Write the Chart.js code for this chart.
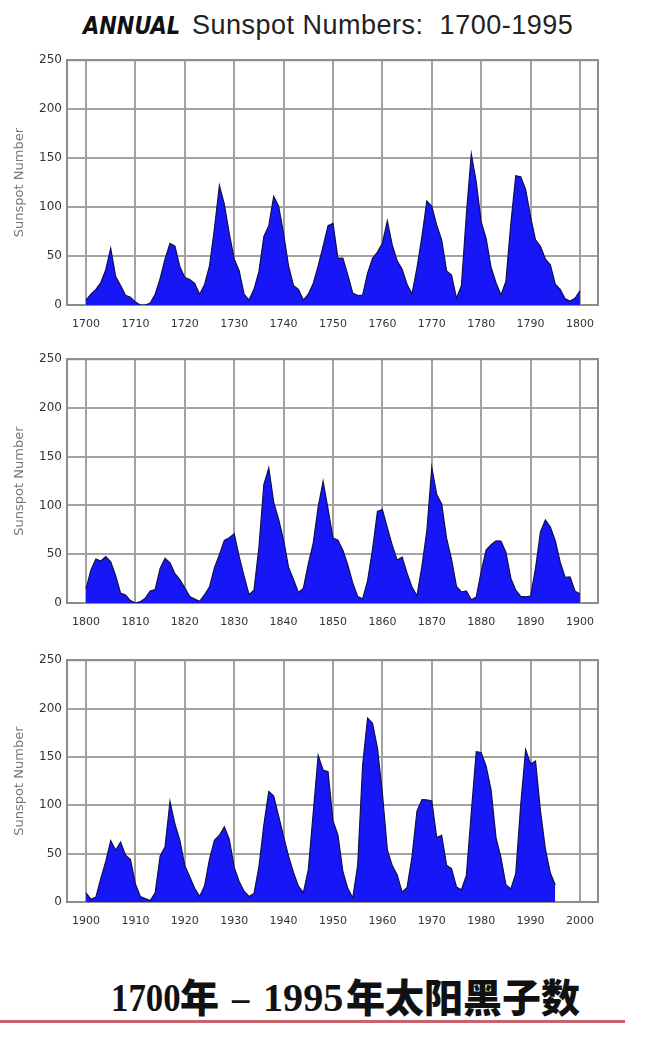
<!DOCTYPE html>
<html>
<head>
<meta charset="utf-8">
<script src="https://cdn.jsdelivr.net/npm/chart.js@4.4.1/dist/chart.umd.min.js"></script>
<style>
  body { margin: 0; background: #fff; width: 666px; height: 1037px; position: relative; overflow: hidden; }
  #title { position: absolute; top: 10px; left: 83px; white-space: nowrap; color: #222; }
  #title .annual { display: inline-block; font-family: "DejaVu Sans"; font-weight: bold; font-style: italic;
    font-size: 25px; transform: scaleX(0.84); transform-origin: left center; width: 109px; color: #111; }
  #title .rest { font-family: "Liberation Sans", Arial, sans-serif; font-size: 27px; letter-spacing: 0.5px; }
  .panel { position: absolute; left: 0; }
  .cap { position: absolute; top: 972px; white-space: nowrap; font-weight: bold; color: #111; line-height: 1; }
  .cap.num { font-family: "Liberation Serif", serif; font-size: 41px; transform: scaleX(0.85); transform-origin: left center; top: 977px; }
  .cap.num.wide { transform: scaleX(0.98); }
  .cap.cjk { font-family: "Noto Sans CJK SC"; font-weight: 900; font-size: 39px; top: 976px; }
  #rule { position: absolute; left: 0; top: 1020px; width: 625px; height: 3px; background: #c9626c; }
</style>
</head>
<body>
<div id="title"><span class="annual">ANNUAL</span><span class="rest">Sunspot Numbers:&nbsp; 1700-1995</span></div>
<div class="panel" id="p1" style="top:48px"><canvas id="c1" width="620" height="297"></canvas></div>
<div class="panel" id="p2" style="top:347px"><canvas id="c2" width="620" height="296"></canvas></div>
<div class="panel" id="p3" style="top:648px"><canvas id="c3" width="620" height="294"></canvas></div>
<span class="cap num" style="left:111px">1700</span>
<span class="cap cjk" style="left:180px">年</span>
<span class="cap num" style="left:232px">–</span>
<span class="cap num wide" style="left:263px">1995</span>
<span class="cap cjk" style="left:346px">年太阳黑子数</span>
<div id="rule"></div>
<script>
// first year of each panel
const panelStarts = [1700, 1800, 1900];

// annual sunspot numbers, 1700-1800
const spots1700s = [
  5, 11, 16, 23, 36, 58, 29, 20, 10, 8,
  3, 0, 0, 2, 11, 27, 47, 63, 60, 39,
  28, 26, 22, 11, 21, 40, 78, 122, 103, 73,
  47, 35, 11, 5, 16, 34, 70, 81, 111, 101,
  73, 40, 20, 16, 5, 11, 22, 40, 60, 80.9,
  83.4, 47.7, 47.8, 30.7, 12.2, 9.6, 10.2, 32.4, 47.6, 54,
  62.9, 85.9, 61.2, 45.1, 36.4, 20.9, 11.4, 37.8, 69.8, 106.1,
  100.8, 81.6, 66.5, 34.8, 30.6, 7, 19.8, 92.5, 154.4, 125.9,
  84.8, 68.1, 38.5, 22.8, 10.2, 24.1, 82.9, 132, 130.9, 118.1,
  89.9, 66.6, 60, 46.9, 41, 21.3, 16, 6.4, 4.1, 6.8,
  14.5
];

// 1800-1900
const spots1800s = [
  14.5, 34, 45, 43.1, 47.5, 42.2, 28.1, 10.1, 8.1, 2.5,
  0, 1.4, 5, 12.2, 13.9, 35.4, 45.8, 41.1, 30.1, 23.9,
  15.6, 6.6, 4, 1.8, 8.5, 16.6, 36.3, 49.6, 64.2, 67,
  70.9, 47.8, 27.5, 8.5, 13.2, 56.9, 121.5, 138.3, 103.2, 85.7,
  64.6, 36.7, 24.2, 10.7, 15, 40.1, 61.5, 98.5, 124.7, 96.3,
  66.6, 64.5, 54.1, 39, 20.6, 6.7, 4.3, 22.7, 54.8, 93.8,
  95.8, 77.2, 59.1, 44, 47, 30.5, 16.3, 7.3, 37.6, 74,
  139, 111.2, 101.6, 66.2, 44.7, 17, 11.3, 12.4, 3.4, 6,
  32.3, 54.3, 59.7, 63.7, 63.5, 52.2, 25.4, 13.1, 6.8, 6.3,
  7.1, 35.6, 73, 85.1, 78, 64, 41.8, 26.2, 26.7, 12.1,
  9.5
];

// 1900-1995
const spots1900s = [
  9.5, 2.7, 5, 24.4, 42, 63.5, 53.8, 62, 48.5, 43.9,
  18.6, 5.7, 3.6, 1.4, 9.6, 47.4, 57.1, 103.9, 80.6, 63.6,
  37.6, 26.1, 14.2, 5.8, 16.7, 44.3, 63.9, 69, 77.8, 64.9,
  35.7, 21.2, 11.1, 5.7, 8.7, 36.1, 79.7, 114.4, 109.6, 88.8,
  67.8, 47.5, 30.6, 16.3, 9.6, 33.2, 92.6, 151.6, 136.3, 134.7,
  83.9, 69.4, 31.5, 13.9, 4.4, 38, 141.7, 190.2, 184.8, 159,
  112.3, 53.9, 37.6, 27.9, 10.2, 15.1, 47, 93.8, 105.9, 105.5,
  104.5, 66.6, 68.9, 38, 34.5, 15.5, 12.6, 27.5, 92.5, 155.4,
  154.6, 140.4, 115.9, 66.6, 45.9, 17.9, 13.4, 29.4, 100.2, 157.6,
  142.6, 145.7, 94.3, 54.6, 29.9, 17.5
];

const yTicks = [0, 50, 100, 150, 200, 250];
const yTitle = "Sunspot Number";

const $ = (id) => document.getElementById(id);

// frame around the plot area (top + right edges)
const framePlugin = {
  id: "frame",
  beforeDatasetsDraw(chart) {
    const { ctx, chartArea: a } = chart;
    ctx.save();
    ctx.strokeStyle = "#8c8c8c";
    ctx.lineWidth = 2;
    ctx.strokeRect(a.left, a.top, a.right - a.left, a.bottom - a.top);
    ctx.restore();
  },
};

function makePanel(canvasId, start, values, plotHeight) {
  const points = values.map((v, i) => ({ x: start + i, y: v }));
  const canvas = $(canvasId);
  return new Chart(canvas.getContext("2d"), {
    type: "line",
    data: {
      datasets: [
        {
          data: points,
          fill: "origin",
          backgroundColor: "#1616f6",
          borderColor: "#101050",
          borderWidth: 1.2,
          pointRadius: 0,
          tension: 0,
        },
      ],
    },
    options: {
      responsive: false,
      animation: false,
      devicePixelRatio: 1,
      layout: { padding: { left: 10, right: 22, top: 12, bottom: 0 } },
      plugins: { legend: { display: false }, tooltip: { enabled: false } },
      scales: {
        x: {
          type: "linear",
          min: start - 3.85,
          max: start + 103.65,
          afterFit: (s) => { s.height = canvas.height - 12 - plotHeight; },
          grid: { color: "#a2a2a2", lineWidth: 2, drawTicks: false },
          border: { color: "#8c8c8c", width: 2 },
          ticks: {
            stepSize: 10,
            includeBounds: false,
            autoSkip: false,
            maxRotation: 0,
            padding: 13,
            color: "#333",
            font: { family: "DejaVu Sans", size: 11 },
            callback: (v) => String(v),
          },
        },
        y: {
          min: yTicks[0],
          max: yTicks[yTicks.length - 1],
          afterFit: (s) => { s.width = 57; },
          grid: { color: "#a2a2a2", lineWidth: 2, drawTicks: false },
          border: { color: "#8c8c8c", width: 2 },
          title: {
            display: true,
            text: yTitle,
            color: "#777",
            padding: { top: 2, bottom: 0 },
            font: { family: "DejaVu Sans", size: 13 },
          },
          ticks: {
            stepSize: 50,
            padding: 5,
            color: "#333",
            font: { family: "DejaVu Sans", size: 12 },
            callback: (v) => String(v),
          },
        },
      },
    },
    plugins: [framePlugin],
  });
}

makePanel("c1", panelStarts[0], spots1700s, 245);
makePanel("c2", panelStarts[1], spots1800s, 244);
makePanel("c3", panelStarts[2], spots1900s, 242);
</script>
</body>
</html>
